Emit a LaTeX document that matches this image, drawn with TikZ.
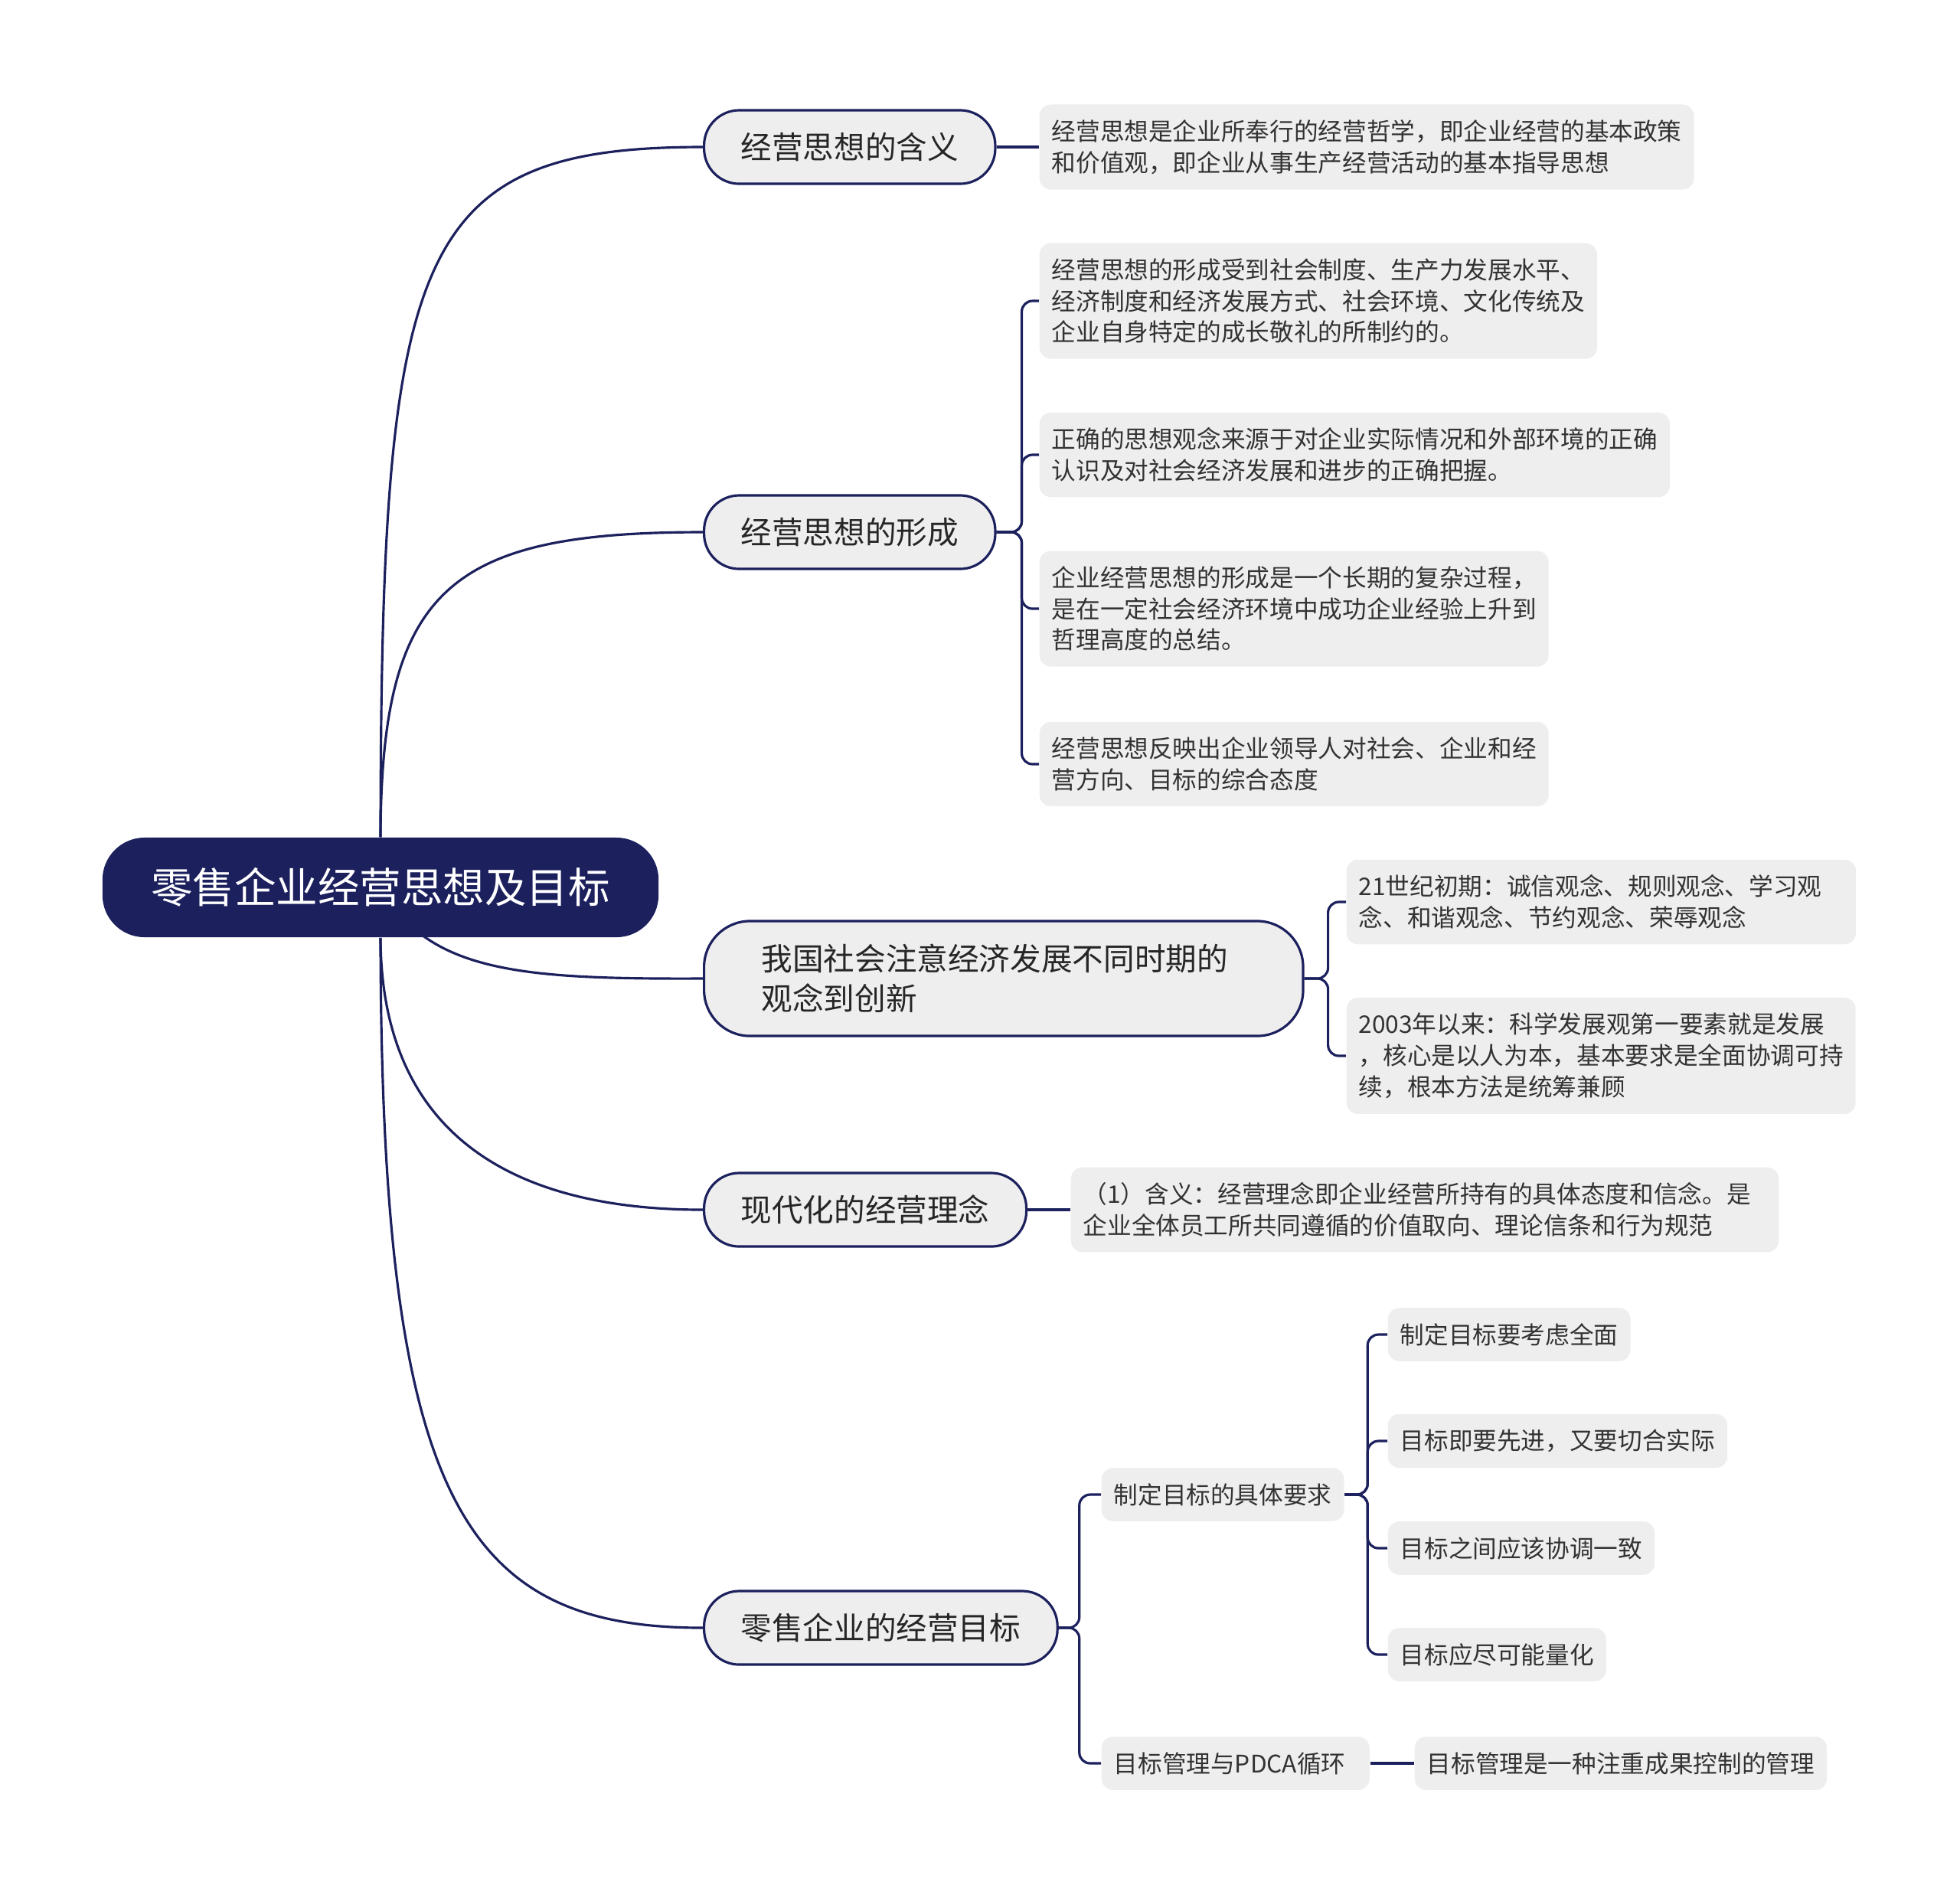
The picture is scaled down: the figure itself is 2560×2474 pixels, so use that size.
\documentclass[tikz,border=0pt]{standalone}
\usepackage{fontspec}
\setmainfont{Noto Sans CJK SC}
\usetikzlibrary{backgrounds}
\definecolor{navy}{RGB}{28,33,94}
\definecolor{leafgray}{RGB}{238,238,238}
\definecolor{inkgray}{RGB}{51,51,51}

\begin{document}
\begin{tikzpicture}[x=0.01cm,y=-0.01cm,
  rootbox/.style={fill=navy,text=white,rounded corners=0.55cm,minimum width=7.26cm,minimum height=1.3cm,font=\fontsize{15.5pt}{18pt}\selectfont},
  topic/.style={draw=navy,line width=0.9pt,fill=leafgray,rounded corners=0.46cm,anchor=west,inner xsep=0.48cm,minimum height=0.96cm,text=black!85,font=\fontsize{11.55pt}{14.8pt}\selectfont},
  leaf/.style={fill=leafgray,rounded corners=0.15cm,anchor=west,inner xsep=0.16cm,inner ysep=0.2cm,align=left,text=inkgray,font=\fontsize{9pt}{11.6pt}\selectfont},
  link/.style={draw=navy,line width=0.9pt},
  fork/.style={link,rounded corners=0.14cm}]
  \useasboundingbox (0,0) rectangle (2560,2474);
  % centre
  \node[rootbox] (root) at (497,1159) {零售企业经营思想及目标};
  % first level
  \node[topic] (n1) at (918,192) {经营思想的含义};
  \node[topic] (n2) at (918,695) {经营思想的形成};
  \node[topic,align=left,text width=6.32cm,inner xsep=0.75cm,minimum height=1.5cm,rounded corners=0.6cm] (n3) at (918,1278) {我国社会注意经济发展不同时期的\\观念到创新};
  \node[topic] (n4) at (918,1580) {现代化的经营理念};
  \node[topic] (n5) at (918,2126) {零售企业的经营目标};
  % leaves
  \node[leaf] (l1) at (1357,192) {经营思想是企业所奉行的经营哲学，即企业经营的基本政策\\和价值观，即企业从事生产经营活动的基本指导思想};
  \node[leaf] (l2a) at (1357,393) {经营思想的形成受到社会制度、生产力发展水平、\\经济制度和经济发展方式、社会环境、文化传统及\\企业自身特定的成长敬礼的所制约的。};
  \node[leaf] (l2b) at (1357,594) {正确的思想观念来源于对企业实际情况和外部环境的正确\\认识及对社会经济发展和进步的正确把握。};
  \node[leaf] (l2c) at (1357,795) {企业经营思想的形成是一个长期的复杂过程，\\是在一定社会经济环境中成功企业经验上升到\\哲理高度的总结。};
  \node[leaf] (l2d) at (1357,998) {经营思想反映出企业领导人对社会、企业和经\\营方向、目标的综合态度};
  \node[leaf,text width=6.33cm] (l3a) at (1758,1178) {21世纪初期：诚信观念、规则观念、学习观\\念、和谐观念、节约观念、荣辱观念};
  \node[leaf] (l3b) at (1758,1379) {2003年以来：科学发展观第一要素就是发展\\，核心是以人为本，基本要求是全面协调可持\\续，根本方法是统筹兼顾};
  \node[leaf,text width=8.92cm] (l4) at (1398,1580) {（1）含义：经营理念即企业经营所持有的具体态度和信念。是\\企业全体员工所共同遵循的价值取向、理论信条和行为规范};
  \node[leaf] (c5a) at (1438,1952) {制定目标的具体要求};
  \node[leaf,text width=3.18cm] (c5b) at (1438,2303) {目标管理与PDCA循环};
  \node[leaf] (g1) at (1812,1743) {制定目标要考虑全面};
  \node[leaf] (g2) at (1812,1882) {目标即要先进，又要切合实际};
  \node[leaf] (g3) at (1812,2022) {目标之间应该协调一致};
  \node[leaf] (g4) at (1812,2161) {目标应尽可能量化};
  \node[leaf] (pdca) at (1847,2303) {目标管理是一种注重成果控制的管理};
  % connectors
  \begin{scope}[on background layer]
    \draw[link] (root.north) .. controls (498,327) and (539,192) .. (n1.west);
    \draw[link] (root.north) .. controls (498,767) and (588,695) .. (n2.west);
    \draw[link] (root.center) .. controls (560,1270) and (680,1279) .. (n3.west);
    \draw[link] (root.south) .. controls (498,1469) and (653,1580) .. (n4.west);
    \draw[link] (root.south) .. controls (498,1959) and (604,2126) .. (n5.west);
    \draw[link] (n1.east) -- (l1.west);
    \foreach \k in {l2a,l2b,l2c,l2d} \draw[fork] (n2.east) -- ++(33,0) |- (\k.west);
    \foreach \k in {l3a,l3b} \draw[fork] (n3.east) -- ++(31,0) |- (\k.west);
    \draw[link] (n4.east) -- (l4.west);
    \foreach \k in {c5a,c5b} \draw[fork] (n5.east) -- ++(27,0) |- (\k.west);
    \foreach \k in {g1,g2,g3,g4} \draw[fork] (c5a.east) -- ++(30,0) |- (\k.west);
    \draw[link] (c5b.east) -- (pdca.west);
  \end{scope}
\end{tikzpicture}
\end{document}
